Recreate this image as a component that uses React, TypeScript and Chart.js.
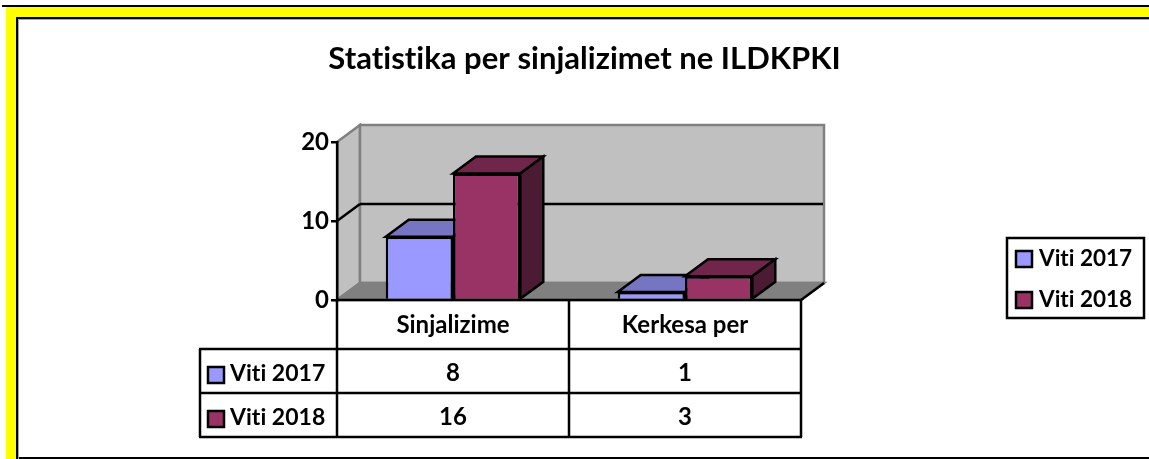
import React, { useEffect, useRef } from "react";
import { Chart, registerables } from "chart.js";

Chart.register(...registerables);

const titleText = "Statistika per sinjalizimet ne ILDKPKI";
const categories = ["Sinjalizime", "Kerkesa per"];
const seriesNames = ["Viti 2017", "Viti 2018"];
const viti2017 = [8, 1];
const viti2018 = [16, 3];
const yTickStep = 10;
const yMax = 20;

const FACE = ["#9999FF", "#993366"];
const TOP = ["#7575C2", "#70264B"];
const SIDE = ["#4E4E85", "#4B1A33"];
const FONT = "Lato, Carlito, sans-serif";
const DX = 23;
const DY = 17;
const LW = 2.5;

function poly(ctx: CanvasRenderingContext2D, pts: number[][], fill: string | null, stroke: string | null, lw = LW) {
  ctx.beginPath();
  pts.forEach((p, i) => (i ? ctx.lineTo(p[0], p[1]) : ctx.moveTo(p[0], p[1])));
  ctx.closePath();
  if (fill) { ctx.fillStyle = fill; ctx.fill(); }
  if (stroke) { ctx.strokeStyle = stroke; ctx.lineWidth = lw; ctx.lineJoin = "miter"; ctx.stroke(); }
}
function line(ctx: CanvasRenderingContext2D, x1: number, y1: number, x2: number, y2: number, c = "#000", lw = LW) {
  ctx.beginPath(); ctx.moveTo(x1, y1); ctx.lineTo(x2, y2); ctx.strokeStyle = c; ctx.lineWidth = lw; ctx.stroke();
}
function swatch(ctx: CanvasRenderingContext2D, x: number, y: number, w: number, h: number, color: string) {
  ctx.fillStyle = color; ctx.fillRect(x, y, w, h);
  ctx.strokeStyle = "#000"; ctx.lineWidth = LW; ctx.strokeRect(x, y, w, h);
}

const frame = {
  id: "frame",
  beforeDraw(chart: any) {
    const c = chart.ctx; const W = chart.width; const H = chart.height;
    c.letterSpacing = "0.01px";
    c.save();
    c.fillStyle = "#fff"; c.fillRect(0, 0, W, H);
    c.fillStyle = "#000"; c.fillRect(2, 5, W - 2, 2);
    c.fillStyle = "#FFFF00"; c.fillRect(6, 7, W - 6, 10); c.fillRect(6, 7, 10, H - 7);
    c.fillStyle = "#000"; c.fillRect(16, 17, W - 16, 2); c.fillRect(16, 17, 2, H - 17); c.fillRect(16, 457, W - 16, 2);
    c.fillStyle = "#A8A8A8"; c.fillRect(18, 19, W - 18, 1); c.fillRect(18, 19, 1, H - 19);
    const a = chart.chartArea; const y = chart.scales.y;
    const L = a.left, R = a.right, T = a.top, B = a.bottom;
    poly(c, [[L, T], [L + DX, T - DY], [L + DX, B - DY], [L, B]], "#C0C0C0", "#808080");
    poly(c, [[L + DX, T - DY], [R + DX, T - DY], [R + DX, B - DY], [L + DX, B - DY]], "#C0C0C0", "#808080");
    poly(c, [[L, B], [L + DX, B - DY], [R + DX, B - DY], [R, B]], "#808080", "#808080");
    line(c, R, B, R + DX, B - DY);
    for (let v = yTickStep; v < yMax; v += yTickStep) {
      const py = y.getPixelForValue(v);
      line(c, L, py, L + DX, py - DY);
      line(c, L + DX, py - DY, R + DX - 1, py - DY);
    }
    c.restore();
  },
  beforeDatasetsDraw(chart: any) {
    const c = chart.ctx;
    c.save();
    chart.data.datasets.forEach((_: any, di: number) => {
      chart.getDatasetMeta(di).data.forEach((b: any) => {
        const l = b.x - b.width / 2, r = b.x + b.width / 2, t = b.y, bt = b.base;
        poly(c, [[l, t], [l + DX, t - DY], [r + DX, t - DY], [r, t]], TOP[di], "#000");
        poly(c, [[r, t], [r + DX, t - DY], [r + DX, bt - DY], [r, bt]], SIDE[di], "#000");
      });
    });
    c.restore();
  },
  afterDraw(chart: any) {
    const c = chart.ctx; const a = chart.chartArea;
    const L = a.left, R = a.right, B = a.bottom;
    const n = categories.length; const cw = (R - L) / n;
    const r0 = B + 49, r1 = B + 93, r2 = B + 137, keyL = 200;
    c.save();
    line(c, L, B, R, B);
    line(c, keyL - 1, r0, R + 1, r0); line(c, keyL - 1, r1, R + 1, r1); line(c, keyL - 1, r2, R + 1, r2);
    line(c, keyL, r0, keyL, r2);
    for (let i = 0; i <= n; i++) line(c, L + i * cw, B, L + i * cw, r2);
    c.fillStyle = "#000";
    c.textBaseline = "middle";
    c.font = `bold 24px ${FONT}`;
    c.textAlign = "center";
    categories.forEach((t, i) => {
      const x = L + (i + 0.5) * cw;
      c.fillText(t, x, B + 25);
      c.fillText(String(viti2017[i]), x, r0 + 24);
      c.fillText(String(viti2018[i]), x, r1 + 24);
    });
    c.textAlign = "left";
    c.font = `bold 23px ${FONT}`;
    seriesNames.forEach((s, i) => {
      const ry = r0 + i * 44;
      swatch(c, keyL + 8, ry + 18, 16, 16, FACE[i]);
      c.fillStyle = "#000";
      c.fillText(s, keyL + 30, ry + 25);
    });
    const bx = 1007, by = 238, bw = 137, bh = 80;
    c.strokeStyle = "#000"; c.lineWidth = LW; c.strokeRect(bx, by, bw, bh);
    c.font = `bold 22.5px ${FONT}`;
    seriesNames.forEach((s, i) => {
      const ry = by + 20 + i * 41;
      swatch(c, bx + 9, ry - 7, 16, 16, FACE[i]);
      c.fillStyle = "#000";
      c.fillText(s, bx + 32, ry + 1);
    });
    c.restore();
  },
};

export default function App() {
  const ref = useRef<HTMLCanvasElement>(null);
  useEffect(() => {
    const chart = new Chart(ref.current!, {
      type: "bar",
      data: {
        labels: categories,
        datasets: [
          { label: seriesNames[0], data: viti2017, backgroundColor: FACE[0], borderColor: "#000", borderWidth: LW },
          { label: seriesNames[1], data: viti2018, backgroundColor: FACE[1], borderColor: "#000", borderWidth: LW },
        ],
      },
      options: {
        responsive: false,
        animation: false,
        layout: { padding: { left: 20, right: 0, top: 0, bottom: 159 } },
        datasets: { bar: { categoryPercentage: 0.58, barPercentage: 1 } },
        plugins: {
          legend: { display: false },
          tooltip: { enabled: false },
          title: {
            display: true,
            text: titleText,
            color: "#000",
            font: { family: FONT, weight: "bold", size: 31 },
            padding: { top: 40.4, bottom: 64.4 },
          },
        },
        scales: {
          x: { display: false },
          y: {
            min: 0,
            max: yMax,
            afterFit: (s: any) => { s.width = 317; },
            ticks: { stepSize: yTickStep, color: "#000", padding: 2, font: { family: FONT, weight: "bold", size: 24 } },
            grid: { drawOnChartArea: false, drawTicks: true, tickLength: 6, color: "#000", lineWidth: LW },
            border: { color: "#000", width: LW },
          },
          y2: {
            position: "right",
            afterFit: (s: any) => { s.width = 348; },
            ticks: { display: false },
            grid: { display: false },
            border: { display: false },
          },
        },
      },
      plugins: [frame],
    } as any);
    return () => chart.destroy();
  }, []);
  return (
    <canvas
      ref={ref}
      width={1149}
      height={459}
      style={{ position: "fixed", left: 0, top: 0, width: 1149, height: 459, display: "block" }}
    />
  );
}
